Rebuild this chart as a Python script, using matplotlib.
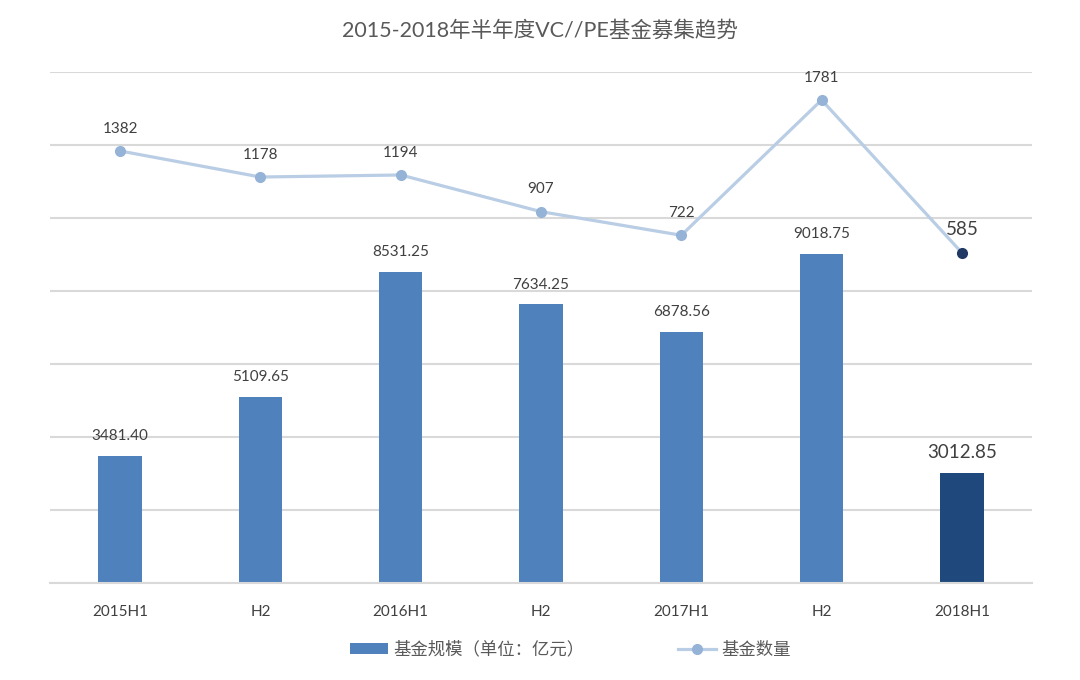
import matplotlib
matplotlib.use("Agg")
import matplotlib.pyplot as plt
from matplotlib.lines import Line2D
from matplotlib.patches import Patch

plt.rcParams['font.family'] = ['Lato', 'Noto Sans CJK SC', 'DejaVu Sans']

categories = ["2015H1", "H2", "2016H1", "H2", "2017H1", "H2", "2018H1"]
fund_size = [3481.40, 5109.65, 8531.25, 7634.25, 6878.56, 9018.75, 3012.85]
size_labels = ["3481.40", "5109.65", "8531.25", "7634.25", "6878.56", "9018.75", "3012.85"]
fund_count = [1382, 1178, 1194, 907, 722, 1781, 585]

bar_color = "#4F81BD"
bar_last = "#1F497D"
line_color = "#B9CDE5"
marker_color = "#95B3D7"
marker_last = "#1F3864"
text_color = "#404040"
grid_color = "#D9D9D9"

fig = plt.figure(figsize=(10.8, 6.8), dpi=100)
ax = fig.add_axes([0.0463, 0.1426, 0.9093, 0.7515])
ax2 = ax.twinx()
x = list(range(len(categories)))

colors = [bar_color] * (len(x) - 1) + [bar_last]
ax.bar(x, fund_size, width=0.31, color=colors, zorder=2)
ax.set_ylim(0, 14000)
ax.set_xlim(-0.5, len(x) - 0.5)
ax.set_yticks(range(0, 14001, 2000))
ax.yaxis.grid(True, color=grid_color, linewidth=1.5, zorder=0)
ax.set_axisbelow(True)
ax.tick_params(axis='y', left=False, right=False, labelleft=False, labelright=False, length=0)
ax.tick_params(axis='x', bottom=False, colors=text_color, labelsize=11, pad=12)
ax.set_xticks(x)
ax.set_xticklabels(categories)
for s in ["top", "right", "left"]:
    ax.spines[s].set_visible(False)
ax.spines["bottom"].set_color(grid_color)
ax.spines["bottom"].set_linewidth(1.5)

for i, (v, lab) in enumerate(zip(fund_size, size_labels)):
    last = i == len(x) - 1
    ax.annotate(lab, (i, v), xytext=(0, 9), textcoords="offset points",
                ha="center", va="bottom", color=text_color,
                fontsize=13.5 if last else 11)

ax2.set_ylim(-2000, 2000)
ax2.plot(x, fund_count, color=line_color, linewidth=2.3, zorder=3)
ax2.plot(x[:-1], fund_count[:-1], "o", color=marker_color, markersize=7, zorder=4)
ax2.plot(x[-1:], fund_count[-1:], "o", color=marker_last, markersize=7, zorder=4)
ax2.axis("off")
for i, v in enumerate(fund_count):
    last = i == len(x) - 1
    ax2.annotate(str(v), (i, v), xytext=(0, 11), textcoords="offset points",
                 ha="center", va="bottom", color=text_color,
                 fontsize=13.5 if last else 11)

fig.text(0.5, 0.955, "2015-2018年半年度VC//PE基金募集趋势", ha="center", va="center",
         fontsize=15.5, color="#595959")

handles = [Patch(facecolor=bar_color),
           Line2D([0], [0], color=line_color, linewidth=2.3, marker="o",
                  markerfacecolor=marker_color, markeredgecolor=marker_color, markersize=7)]
fig.legend(handles, ["基金规模（单位：亿元）", "基金数量"], loc="center",
           bbox_to_anchor=(0.528, 0.045), ncol=2, frameon=False, fontsize=12.5,
           labelcolor="#595959", columnspacing=5.4, handlelength=2.2, handleheight=0.55,
           handletextpad=0.3)

fig.savefig("out.png", dpi=100)
